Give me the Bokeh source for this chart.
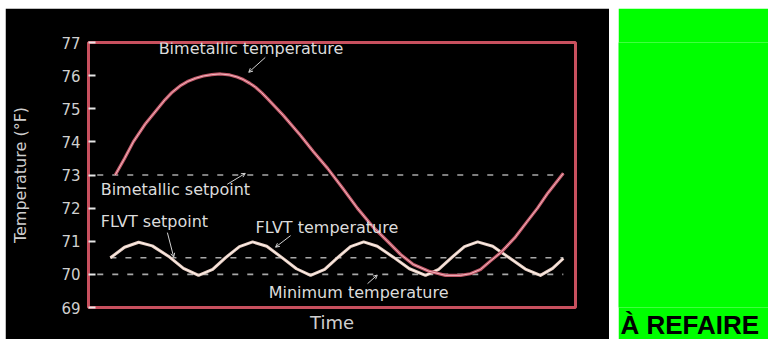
from bokeh.plotting import figure
from bokeh.models import Range1d, FixedTicker, Arrow, OpenHead, Label, Spacer, Title
from bokeh.layouts import row, column
from bokeh.embed import file_html
from bokeh.resources import INLINE

# ---------------- data ----------------
bimetal_time = [5.5, 7.4, 9.2, 11.7, 14.2, 15.7, 17.2, 18.8, 20.3, 22.0, 23.6, 25.3, 27.1,
                29.0, 30.5, 31.8, 33.1, 34.3, 35.6, 36.8,
                40.0, 43.5, 46.2, 49.1, 52.2, 55.2, 58.3, 61.4, 64.1, 66.7, 69.8,
                73.3, 76.4, 78.4, 80.5, 82.5, 84.6, 87.5, 90.1, 92.2, 94.3, 95.9, 97.5]
bimetal_temp = [73.0, 73.5, 74.0, 74.55, 75.0, 75.27, 75.5, 75.69, 75.82, 75.92, 75.99, 76.03, 76.05,
                76.02, 75.96, 75.88, 75.77, 75.65, 75.48, 75.3,
                74.8, 74.2, 73.7, 73.2, 72.6, 72.0, 71.45, 71.0, 70.6, 70.3, 70.1,
                69.97, 69.97, 70.02, 70.15, 70.4, 70.65, 71.1, 71.6, 72.0, 72.45, 72.75, 73.05]

flvt_time = [4.5, 7.4, 10.3, 13.1, 16.4, 19.5, 22.6, 25.5, 28.1, 31.0, 33.7, 36.6,
             39.6, 42.7, 45.6, 48.5, 51.1, 53.8, 56.5, 59.3, 62.6, 65.9, 69.2,
             71.9, 74.5, 77.2, 79.9, 83.0, 86.4, 89.7, 92.8, 95.3, 97.5]
flvt_temp = [70.5, 70.82, 70.97, 70.86, 70.55, 70.18, 69.97, 70.15, 70.5, 70.84, 70.98, 70.85,
             70.52, 70.17, 69.97, 70.15, 70.5, 70.84, 70.98, 70.85, 70.52, 70.17, 69.97,
             70.15, 70.5, 70.84, 70.98, 70.85, 70.5, 70.16, 69.97, 70.18, 70.48]

setpoint_values = [73.0, 70.5, 70.0]
setpoint_start = [1.8, 4.5, 1.8]
setpoint_end = [97.5, 97.5, 97.5]

y_ticks = [69, 70, 71, 72, 73, 74, 75, 76, 77]

label_texts = ["Bimetallic temperature", "Bimetallic setpoint", "FLVT setpoint",
               "FLVT temperature", "Minimum temperature"]
label_x = [14.4, 2.5, 2.5, 34.3, 37.0]
label_y = [76.82, 72.55, 71.59, 71.41, 69.45]

arrow_x_start = [36.3, 28.5, 16.2, 41.5, 57.3]
arrow_y_start = [76.55, 72.72, 71.26, 71.17, 69.72]
arrow_x_end = [32.9, 32.2, 17.5, 38.4, 59.3]
arrow_y_end = [76.1, 73.05, 70.52, 70.82, 69.98]

TEXT = "#dcdcdc"
FRAME = "#c8505e"
GREEN = "#00ff00"

# ---------------- main chart ----------------
p = figure(width=604, height=331, x_range=Range1d(0, 100), y_range=Range1d(69, 77),
           toolbar_location=None, output_backend="svg",
           min_border_left=83, min_border_right=34, min_border_top=34, min_border_bottom=31)
p.background_fill_color = "black"
p.border_fill_color = "black"
p.outline_line_color = FRAME
p.outline_line_width = 3
p.grid.visible = False

ya = p.yaxis[0]
ya.ticker = FixedTicker(ticks=y_ticks)
ya.axis_line_color = None
ya.major_tick_in = 7
ya.major_tick_out = 0
ya.major_tick_line_color = "#e6e6e6"
ya.major_tick_line_width = 2
ya.minor_tick_line_color = None
ya.major_label_standoff = 8
ya.major_label_text_color = "#cfcfcf"
ya.major_label_text_font = "DejaVu Sans"
ya.major_label_text_font_size = "15px"
ya.axis_label = "Temperature (°F)"
ya.axis_label_text_color = "#cfcfcf"
ya.axis_label_text_font = "DejaVu Sans"
ya.axis_label_text_font_size = "16px"
ya.axis_label_text_font_style = "normal"
ya.axis_label_standoff = 28

xa = p.xaxis[0]
xa.ticker = FixedTicker(ticks=[])
xa.axis_line_color = None
xa.major_tick_line_color = None
xa.minor_tick_line_color = None
xa.major_tick_out = 0
xa.major_label_standoff = 0
xa.axis_label = "Time"
xa.axis_label_text_color = "#cfcfcf"
xa.axis_label_text_font = "DejaVu Sans"
xa.axis_label_text_font_size = "18px"
xa.axis_label_text_font_style = "normal"
xa.axis_label_standoff = 4

# setpoint / minimum dashed lines
for v, s, e in zip(setpoint_values, setpoint_start, setpoint_end):
    p.line([s, e], [v, v], line_color="#a8a8a8", line_width=1.6, line_dash="6 9")

# FLVT temperature
p.line(flvt_time, flvt_temp, line_color="#e8cfc4", line_width=3.0, line_join="round")
p.line(flvt_time, flvt_temp, line_color="#fff4ee", line_width=1, line_join="round")

# bimetallic temperature
p.line(bimetal_time, bimetal_temp, line_color="#c25a6a", line_width=3.2, line_join="round")
p.line(bimetal_time, bimetal_temp, line_color="#f2b8c0", line_width=1, line_join="round")

for xs, ys, xe, ye in zip(arrow_x_start, arrow_y_start, arrow_x_end, arrow_y_end):
    p.add_layout(Arrow(end=OpenHead(size=4, line_color="#d0d0d0", line_width=1),
                       x_start=xs, y_start=ys, x_end=xe, y_end=ye,
                       line_color="#d0d0d0", line_width=1))

for t, x, y in zip(label_texts, label_x, label_y):
    p.add_layout(Label(x=x, y=y, text=t, text_color=TEXT, text_font="DejaVu Sans",
                       text_font_size="16px", text_baseline="middle", text_align="left"))

# ---------------- side box ----------------
g = figure(width=150, height=331, x_range=Range1d(0, 150), y_range=Range1d(0, 331),
           toolbar_location=None, output_backend="svg", min_border=0,
           min_border_top=34, min_border_bottom=31,
           x_axis_location=None, y_axis_location=None, title=None)
g.background_fill_color = GREEN
g.border_fill_color = GREEN
g.outline_line_color = None
g.grid.visible = False
g.add_layout(Title(text="À REFAIRE", align="left", offset=2, standoff=0,
                   text_color="black", text_font="Liberation Sans",
                   text_font_style="bold", text_font_size="26px"), "below")

layout = column(Spacer(width=768, height=8),
                row(Spacer(width=5, height=331), p, Spacer(width=9, height=331), g))

open("out.html", "w").write(file_html(layout, INLINE))
